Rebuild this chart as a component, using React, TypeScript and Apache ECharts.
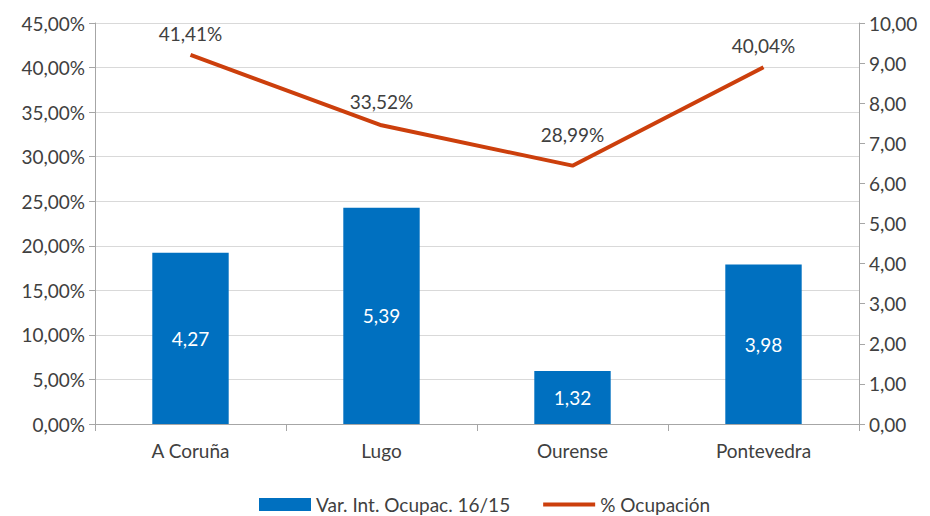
import React, { useEffect, useRef } from "react";
import * as echarts from "echarts";

const categories = ["A Coruña", "Lugo", "Ourense", "Pontevedra"];
const varIntOcupac = [4.27, 5.39, 1.32, 3.98];
const ocupacion = [41.41, 33.52, 28.99, 40.04];
const barName = "Var. Int. Ocupac. 16/15";
const lineName = "% Ocupación";

const fmt = (v: number) => v.toFixed(2).replace(".", ",");

export default function App() {
  const ref = useRef<HTMLDivElement>(null);
  useEffect(() => {
    if (!ref.current) return;
    const chart = echarts.init(ref.current, undefined, { renderer: "svg" });
    const font = "Lato, 'Liberation Sans', sans-serif";
    const textColor = "#404040";
    const fs = 19;
    const labelDistances = [12, 14, 22, 12];
    chart.setOption({
      animation: false,
      textStyle: { fontFamily: font, color: textColor },
      grid: { left: 95, right: 71, top: 23, bottom: 92, containLabel: false },
      legend: {
        top: 495,
        left: 259,
        padding: 0,
        itemGap: 33,
        itemWidth: 52,
        itemHeight: 13,
        textStyle: { fontFamily: font, fontSize: fs, color: textColor },
        data: [
          { name: barName, icon: "rect" },
          { name: lineName, icon: "path://M0,0L55,0L55,4L0,4Z" },
        ],
      },
      xAxis: {
        type: "category",
        data: categories,
        axisLine: { lineStyle: { color: "#A6A6A6", width: 1 } },
        axisTick: { show: true, length: 7, lineStyle: { color: "#A6A6A6" } },
        axisLabel: { fontSize: fs, color: textColor, margin: 17, fontFamily: font },
      },
      yAxis: [
        {
          type: "value",
          min: 0,
          max: 45,
          interval: 5,
          position: "left",
          axisLine: { show: true, lineStyle: { color: "#A6A6A6" } },
          axisTick: { show: true, length: 6, lineStyle: { color: "#A6A6A6" } },
          splitLine: { lineStyle: { color: "#D9D9D9" } },
          axisLabel: {
            fontSize: fs,
            color: textColor,
            margin: 10,
            fontFamily: font,
            formatter: (v: number) => fmt(v) + "%",
          },
        },
        {
          type: "value",
          min: 0,
          max: 10,
          interval: 1,
          position: "right",
          axisLine: { show: true, lineStyle: { color: "#A6A6A6" } },
          axisTick: { show: true, length: 6, lineStyle: { color: "#A6A6A6" } },
          splitLine: { show: false },
          axisLabel: {
            fontSize: fs,
            color: textColor,
            margin: 10,
            fontFamily: font,
            formatter: (v: number) => fmt(v),
          },
        },
      ],
      series: [
        {
          name: barName,
          type: "bar",
          yAxisIndex: 1,
          data: varIntOcupac,
          barWidth: "40%",
          itemStyle: { color: "#0070C0" },
          label: {
            show: true,
            position: "inside",
            color: "#FFFFFF",
            fontSize: fs,
            fontFamily: font,
            formatter: (p: any) => fmt(p.value),
          },
        },
        {
          name: lineName,
          type: "line",
          yAxisIndex: 0,
          data: ocupacion.map((v, i) => ({ value: v, label: { distance: labelDistances[i] } })),
          symbol: "circle",
          symbolSize: 0,
          showSymbol: true,
          lineStyle: { color: "#CC3F0C", width: 4 },
          itemStyle: { color: "#CC3F0C" },
          label: {
            show: true,
            position: "top",
            color: textColor,
            fontSize: fs,
            fontFamily: font,
            formatter: (p: any) => fmt(p.value) + "%",
          },
        },
      ],
    });
    return () => chart.dispose();
  }, []);
  return (
    <div
      ref={ref}
      style={{ position: "absolute", left: 0, top: 0, width: 930, height: 516 }}
    />
  );
}
